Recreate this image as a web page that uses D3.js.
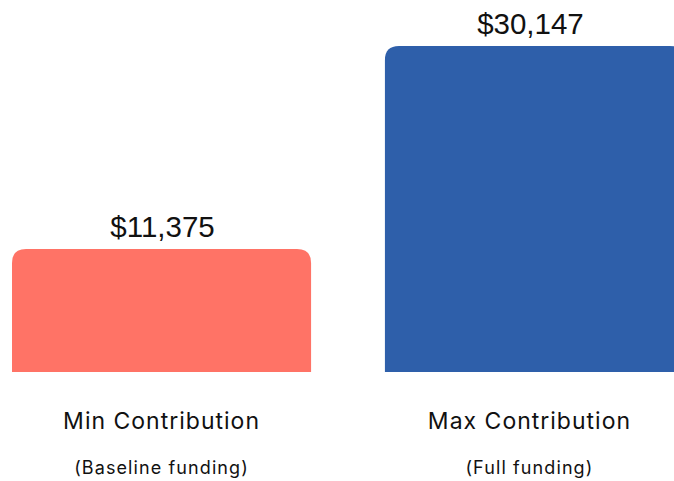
<!DOCTYPE html>
<html>
<head>
<meta charset="utf-8">
<script src="https://cdn.jsdelivr.net/npm/d3@7"></script>
<style>
  html, body { margin: 0; padding: 0; background: #fff; }
  svg { display: block; }
</style>
</head>
<body>
<div id="chart"></div>
<script>
const categories = ["Min Contribution", "Max Contribution"];
const subtitles = ["(Baseline funding)", "(Full funding)"];
const values = [11375, 30147];
const colors = ["#ff7366", "#2e5faa"];

const width = 674;
const height = 481;
const margin = { top: 46, left: 12, bottom: 109 };
const baseY = height - margin.bottom;

const x = d3
  .scaleBand()
  .domain(categories)
  .range([margin.left, margin.left + 672])
  .paddingInner(0.198)
  .paddingOuter(0);

const y = d3
  .scaleLinear()
  .domain([0, d3.max(values)])
  .range([baseY, margin.top]);

const formatMoney = (v) => "$" + d3.format(",")(v);

const svg = d3
  .select("#chart")
  .append("svg")
  .attr("width", width)
  .attr("height", height);

const data = categories.map((c, i) => ({
  key: c,
  sub: subtitles[i],
  value: values[i],
  color: colors[i],
}));

// rounded top corners only
function barPath(x0, x1, yTop, yBot, r) {
  return `M${x0},${yBot}V${yTop + r}Q${x0},${yTop} ${x0 + r},${yTop}` +
    `H${x1 - r}Q${x1},${yTop} ${x1},${yTop + r}V${yBot}Z`;
}

// the second bar runs past the right edge, so centre on what is visible
const visCenter = (d) => {
  const a = Math.max(x(d.key), 0);
  const b = Math.min(x(d.key) + x.bandwidth(), width);
  return (a + b) / 2;
};

svg
  .append("g")
  .selectAll("path")
  .data(data)
  .join("path")
  .attr("fill", (d) => d.color)
  .attr("d", (d) =>
    barPath(x(d.key), x(d.key) + x.bandwidth(), y(d.value), y(0), 14)
  );

svg
  .append("g")
  .attr("font-family", "'Liberation Sans', Arial, sans-serif")
  .attr("font-size", 29.5)
  .attr("fill", "#111")
  .attr("text-anchor", "middle")
  .selectAll("text")
  .data(data)
  .join("text")
  .attr("x", (d) => visCenter(d) + 1)
  .attr("y", (d) => y(d.value) - 12)
  .text((d) => formatMoney(d.value));

svg
  .append("g")
  .attr("font-family", "Inter, 'Open Sans', sans-serif")
  .attr("font-size", 23)
  .attr("letter-spacing", 1)
  .attr("fill", "#111")
  .attr("text-anchor", "middle")
  .selectAll("text")
  .data(data)
  .join("text")
  .attr("x", visCenter)
  .attr("y", baseY + 57)
  .text((d) => d.key);

svg
  .append("g")
  .attr("font-family", "Inter, 'Open Sans', sans-serif")
  .attr("font-size", 18)
  .attr("letter-spacing", 1.1)
  .attr("fill", "#111")
  .attr("text-anchor", "middle")
  .selectAll("text")
  .data(data)
  .join("text")
  .attr("x", visCenter)
  .attr("y", baseY + 102)
  .text((d) => d.sub);
</script>
</body>
</html>
